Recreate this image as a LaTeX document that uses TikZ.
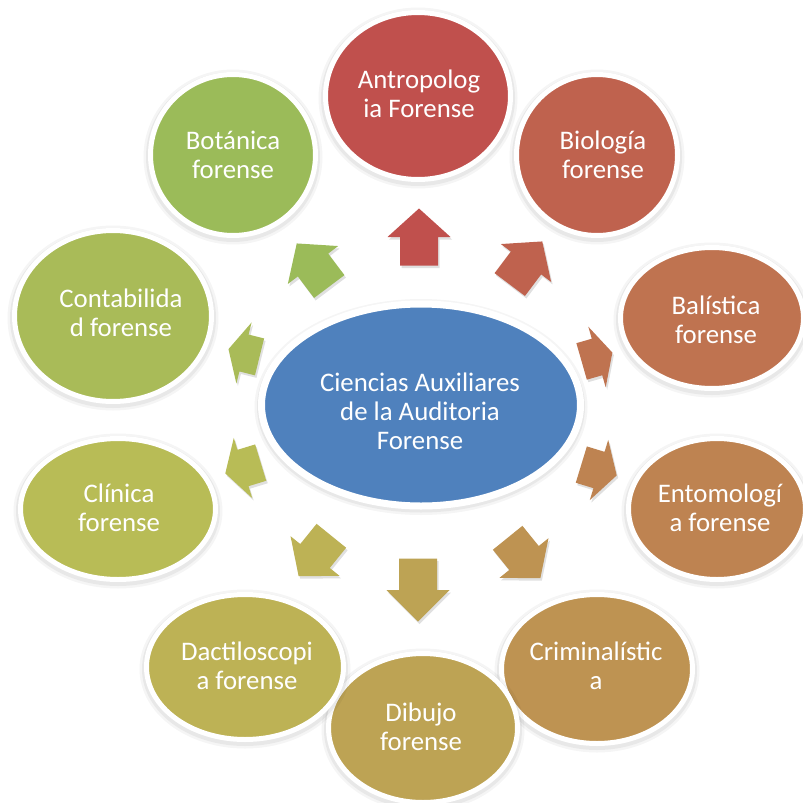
\documentclass[tikz,border=0pt]{standalone}
\usepackage{fontspec}
\setmainfont{Carlito}
\usetikzlibrary{shapes.geometric}
\definecolor{c0}{HTML}{C0504D}
\definecolor{c1}{HTML}{BF624E}
\definecolor{c2}{HTML}{BF7350}
\definecolor{c3}{HTML}{BE8351}
\definecolor{c4}{HTML}{BE9352}
\definecolor{c5}{HTML}{BDA354}
\definecolor{c6}{HTML}{BDB255}
\definecolor{c7}{HTML}{B8BC56}
\definecolor{c8}{HTML}{A9BB58}
\definecolor{c9}{HTML}{9BBB59}
\definecolor{cen}{HTML}{4F81BD}
\tikzset{
  bub/.style={ellipse, inner sep=0pt, outer sep=0pt, draw=white, line width=5pt,
    preaction={draw=black, opacity=0.04, line width=14pt, transform canvas={yshift=-2pt}},
    preaction={draw=black, opacity=0.05, line width=9pt, transform canvas={yshift=-2pt}}},
  txt/.style={text=white, align=center, font=\fontsize{26.8}{29}\selectfont, inner sep=0pt}
}
\newcommand\myarrow[5]{%
  \begin{scope}[shift={(#1+1.5,#2+2.5)}, rotate=#3]
    \fill[black, opacity=0.12] (-#4/2,-19) -- (0,-19) -- (0,-31.5) -- (#4/2,0) -- (0,31.5) -- (0,19) -- (-#4/2,19) -- cycle;
  \end{scope}
  \begin{scope}[shift={(#1,#2)}, rotate=#3]
    \fill[#5] (-#4/2,-19) -- (0,-19) -- (0,-31.5) -- (#4/2,0) -- (0,31.5) -- (0,19) -- (-#4/2,19) -- cycle;
  \end{scope}}
\begin{document}
\begin{tikzpicture}[x=1pt, y=-1pt]
\useasboundingbox (0,0) rectangle (803,803);
\clip (0,0) rectangle (803,803);
\fill[white] (0,0) rectangle (803,803);
% outer bubbles
\node[bub, fill=c0, minimum width=185, minimum height=167] (antro) at (418,96) {};
\node[bub, fill=c1, minimum width=161, minimum height=161] (bio) at (597,155) {};
\node[bub, fill=c2, minimum width=183, minimum height=141] (bal) at (712,318) {};
\node[bub, fill=c3, minimum width=177, minimum height=141] (ento) at (717,509) {};
\node[bub, fill=c4, minimum width=191, minimum height=149] (crim) at (597,669) {};
\node[bub, fill=c5, minimum width=189, minimum height=149] (dib) at (423,728) {};
\node[bub, fill=c6, minimum width=197, minimum height=145] (dac) at (245,667) {};
\node[bub, fill=c7, minimum width=195, minimum height=141] (cli) at (118,509) {};
\node[bub, fill=c8, minimum width=197, minimum height=171] (cont) at (113,316) {};
\node[bub, fill=c9, minimum width=165, minimum height=161] (bot) at (233,155) {};
% centre
\node[bub, fill=cen, line width=7pt, minimum width=319, minimum height=202] (core) at (421,405) {};
% texts
\node[txt] (tantro) at (419,94) {Antropolog\\ia Forense};
\node[txt] (tbio) at (603,155) {Biología\\forense};
\node[txt] (tbal) at (716,320) {Balística\\forense};
\node[txt] (tento) at (720,508) {Entomologí\\a forense};
\node[txt] (tcrim) at (596,666) {Criminalístic\\a};
\node[txt] (tdib) at (421,727) {Dibujo\\forense};
\node[txt] (tdac) at (247,666) {Dactiloscopi\\a forense};
\node[txt] (tcli) at (119,508) {Clínica\\forense};
\node[txt] (tcont) at (121,313) {Contabilida\\d forense};
\node[txt] (tbot) at (233,155) {Botánica\\forense};
\node[txt] (tcore) at (420,411) {Ciencias Auxiliares\\de la Auditoria\\Forense};
% arrows
\myarrow{419}{237}{90}{57}{c0}
\myarrow{526}{263}{53}{54}{c1}
\myarrow{597}{357}{16}{32}{c2}
\myarrow{599}{470}{-17}{37}{c3}
\myarrow{524}{558}{-51}{52}{c4}
\myarrow{418}{590}{-90}{63}{c5}
\myarrow{315}{556}{-129}{52}{c6}
\myarrow{243}{468}{-163}{37}{c7}
\myarrow{244}{353}{166}{32}{c8}
\myarrow{313}{265}{127}{54}{c9}
\end{tikzpicture}
\end{document}
